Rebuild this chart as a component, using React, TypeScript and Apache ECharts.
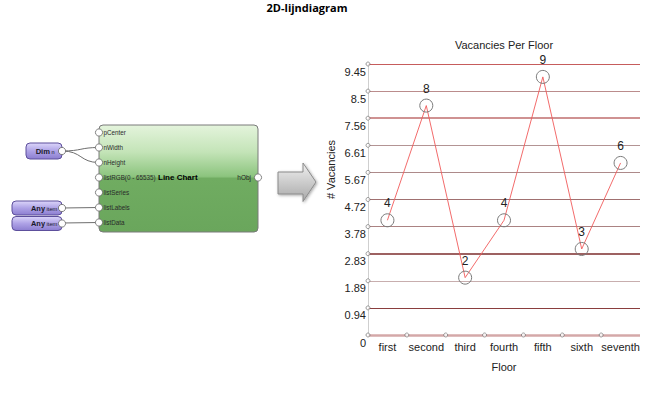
import React, { useEffect, useRef } from 'react';
import * as echarts from 'echarts';

// ---- data ----
const categories = ['first', 'second', 'third', 'fourth', 'fifth', 'sixth', 'seventh'];
const vacancies = [4, 8, 2, 4, 9, 3, 6];
const yTickLabels = ['0', '0.94', '1.89', '2.83', '3.78', '4.72', '5.67', '6.61', '7.56', '8.5', '9.45'];
const yStep = 0.945;
const yMax = 9.45;
const inputNames = ['pCenter', 'nWidth', 'nHeight', 'listRGB(0 - 65535)', 'listSeries', 'listLabels', 'listData'];

// ---- styles ----
const FONT = '"Liberation Sans", Arial, sans-serif';
const gridColors = ['#d4a8a8', '#8a3e3e', '#c8aeae', '#7c2c2c', '#ab8282', '#a07070', '#ad8a8a', '#b39494', '#cf9292', '#bb8c8c', '#c65c5c'];
const gridWidths = [2.5, 1.2, 1, 1.5, 1, 1, 1, 1, 2.2, 1, 1.2];

function buildGraphic(): any[] {
  const els: any[] = [];
  els.push({
    type: 'text', x: 307, y: 7, z: 10,
    style: { text: '2D-lijndiagram', font: 'bold 11px "Open Sans", sans-serif', fill: '#000', textAlign: 'center', textVerticalAlign: 'middle' },
  });
  // arrow
  els.push({
    type: 'polygon', z: 10,
    shape: { points: [[278, 172], [303, 172], [303, 163], [316, 182], [303, 201.5], [303, 194], [278, 194]] },
    style: {
      fill: new echarts.graphic.LinearGradient(0, 0, 0, 1, [
        { offset: 0, color: '#f0f0f0' }, { offset: 1, color: '#a8a8a8' },
      ]),
      stroke: '#8a8a8a', lineWidth: 1, shadowBlur: 3, shadowColor: 'rgba(0,0,0,0.35)', shadowOffsetX: 1, shadowOffsetY: 1,
    },
  });
  // main node
  els.push({
    type: 'rect', z: 10,
    shape: { x: 99, y: 125, width: 159, height: 107, r: 4 },
    style: {
      fill: new echarts.graphic.LinearGradient(0, 0, 0, 1, [
        { offset: 0, color: '#e4f4dc' }, { offset: 0.25, color: '#c4e4b8' }, { offset: 0.48, color: '#8cc47e' }, { offset: 0.5, color: '#70ac61' }, { offset: 1, color: '#6aa65c' },
      ]),
      stroke: '#7a7a7a', lineWidth: 1,
    },
  });
  // wires
  const wire = { stroke: '#6e6e6e', lineWidth: 1, fill: 'none' };
  els.push({ type: 'bezierCurve', z: 11, shape: { x1: 62, y1: 151, x2: 99, y2: 147.5, cpx1: 82, cpy1: 151, cpx2: 80, cpy2: 147.5 }, style: wire });
  els.push({ type: 'bezierCurve', z: 11, shape: { x1: 62, y1: 151, x2: 99, y2: 162.5, cpx1: 82, cpy1: 151, cpx2: 80, cpy2: 162.5 }, style: wire });
  els.push({ type: 'line', z: 11, shape: { x1: 62, y1: 208, x2: 99, y2: 207.5 }, style: wire });
  els.push({ type: 'line', z: 11, shape: { x1: 62, y1: 223, x2: 99, y2: 222.5 }, style: wire });
  // input ports and labels
  inputNames.forEach((name, i) => {
    const y = 132.5 + 15 * i;
    els.push({ type: 'circle', z: 12, shape: { cx: 99, cy: y, r: 3.6 }, style: { fill: '#fff', stroke: '#666', lineWidth: 0.8 } });
    els.push({ type: 'text', z: 12, x: 103.5, y, style: { text: name, font: `6.3px ${FONT}`, fill: '#2a2a2a', textAlign: 'left', textVerticalAlign: 'middle' } });
  });
  els.push({ type: 'text', z: 12, x: 158, y: 177.5, style: { text: 'Line Chart', font: `bold 8px ${FONT}`, fill: '#000', textAlign: 'left', textVerticalAlign: 'middle' } });
  els.push({ type: 'text', z: 12, x: 251, y: 177.5, style: { text: 'hObj', font: `6.5px ${FONT}`, fill: '#222', textAlign: 'right', textVerticalAlign: 'middle' } });
  els.push({ type: 'circle', z: 12, shape: { cx: 258, cy: 177.5, r: 3.6 }, style: { fill: '#fff', stroke: '#666', lineWidth: 0.8 } });

  const purple = () => new echarts.graphic.LinearGradient(0, 0, 0, 1, [
    { offset: 0, color: '#dcd6fa' }, { offset: 0.5, color: '#aea2e6' }, { offset: 1, color: '#8c7ed0' },
  ]);
  // Dim node
  els.push({ type: 'rect', z: 10, shape: { x: 26, y: 143, width: 36, height: 16, r: 4 }, style: { fill: purple(), stroke: '#5d4f9c', lineWidth: 1 } });
  els.push({ type: 'text', z: 12, x: 50, y: 151, style: { text: 'Dim', font: `bold 7.6px ${FONT}`, fill: '#1a1a2a', textAlign: 'right', textVerticalAlign: 'middle' } });
  els.push({ type: 'text', z: 12, x: 51.5, y: 151.5, style: { text: 'n', font: `5.5px ${FONT}`, fill: '#1a1a2a', textAlign: 'left', textVerticalAlign: 'middle' } });
  els.push({ type: 'circle', z: 12, shape: { cx: 62, cy: 151, r: 3.6 }, style: { fill: '#fff', stroke: '#666', lineWidth: 0.8 } });
  // Any nodes
  [201, 216.5].forEach((y0) => {
    const cy = y0 + 7;
    els.push({ type: 'rect', z: 10, shape: { x: 12, y: y0, width: 50, height: 14, r: 4 }, style: { fill: purple(), stroke: '#5d4f9c', lineWidth: 1 } });
    els.push({ type: 'text', z: 12, x: 45, y: cy, style: { text: 'Any', font: `bold 7.4px ${FONT}`, fill: '#1a1a2a', textAlign: 'right', textVerticalAlign: 'middle' } });
    els.push({ type: 'text', z: 12, x: 46.5, y: cy + 0.5, style: { text: 'item', font: `5.8px ${FONT}`, fill: '#1a1a2a', textAlign: 'left', textVerticalAlign: 'middle' } });
    els.push({ type: 'circle', z: 12, shape: { cx: 62, cy, r: 3.6 }, style: { fill: '#fff', stroke: '#666', lineWidth: 0.8 } });
  });
  return els;
}

export default function App() {
  const ref = useRef<HTMLDivElement>(null);
  useEffect(() => {
    if (!ref.current) return;
    const chart = echarts.init(ref.current, undefined, { renderer: 'svg' });
    const yTicks = yTickLabels.map((_, i) => i * yStep);
    const dots: number[][] = [
      ...categories.map((_, i) => [i, 0]),
      ...yTicks.slice(1).map((t) => [0, t]),
    ];
    chart.setOption({
      animation: false,
      backgroundColor: '#fff',
      textStyle: { fontFamily: FONT },
      title: {
        text: 'Vacancies Per Floor', left: 504, top: 39, padding: 0, textAlign: 'center',
        textStyle: { fontSize: 11, fontWeight: 'normal', color: '#222', fontFamily: FONT },
      },
      grid: { left: 368, right: 11, top: 64, bottom: 61, containLabel: false },
      xAxis: [
        {
          type: 'category', data: categories, boundaryGap: true,
          axisLine: { show: false }, axisTick: { show: false }, splitLine: { show: false },
          axisLabel: { interval: 0, fontSize: 11, color: '#222', margin: 6, fontFamily: FONT },
          name: 'Floor', nameLocation: 'middle', nameGap: 26,
          nameTextStyle: { fontSize: 11, color: '#222', fontFamily: FONT },
        },
        { type: 'value', min: 0, max: categories.length, show: false },
      ],
      yAxis: {
        type: 'value', min: 0, max: yMax, interval: yStep,
        axisLine: { show: true, lineStyle: { color: '#cfcfcf', width: 1 } },
        axisTick: { show: false }, splitLine: { show: false },
        axisLabel: {
          fontSize: 11, color: '#222', margin: 2, verticalAlign: 'top', padding: [2, 0, 0, 0], fontFamily: FONT,
          formatter: (_v: number, i: number) => yTickLabels[i] ?? '',
        },
        name: '# Vacancies', nameLocation: 'middle', nameGap: 32,
        nameTextStyle: { fontSize: 11, color: '#222', fontFamily: FONT, padding: [0, 0, 0, 60] },
      },
      series: [
        {
          type: 'scatter', xAxisIndex: 1, yAxisIndex: 0, data: dots, z: 4,
          symbol: 'circle', symbolSize: 4, silent: true,
          itemStyle: { color: '#fff', borderColor: '#666', borderWidth: 0.8 },
          markLine: {
            silent: true, symbol: 'none', label: { show: false }, z: 1,
            data: yTicks.map((t, i) => ({ yAxis: t, lineStyle: { color: gridColors[i], width: gridWidths[i], type: 'solid' } })),
          },
        },
        {
          type: 'line', data: vacancies, xAxisIndex: 0, yAxisIndex: 0, z: 3,
          lineStyle: { color: '#f05a5a', width: 0.9 },
          symbol: 'circle', symbolSize: 13, showAllSymbol: true,
          itemStyle: { color: 'rgba(255,255,255,0)', borderColor: '#7a7a7a', borderWidth: 1 },
          label: { show: true, position: 'top', distance: 4, fontSize: 12, color: '#222', fontFamily: FONT },
        },
      ],
      graphic: buildGraphic(),
    });
    return () => chart.dispose();
  }, []);
  return <div ref={ref} style={{ position: 'absolute', left: 0, top: 0, width: 651, height: 396 }} />;
}
